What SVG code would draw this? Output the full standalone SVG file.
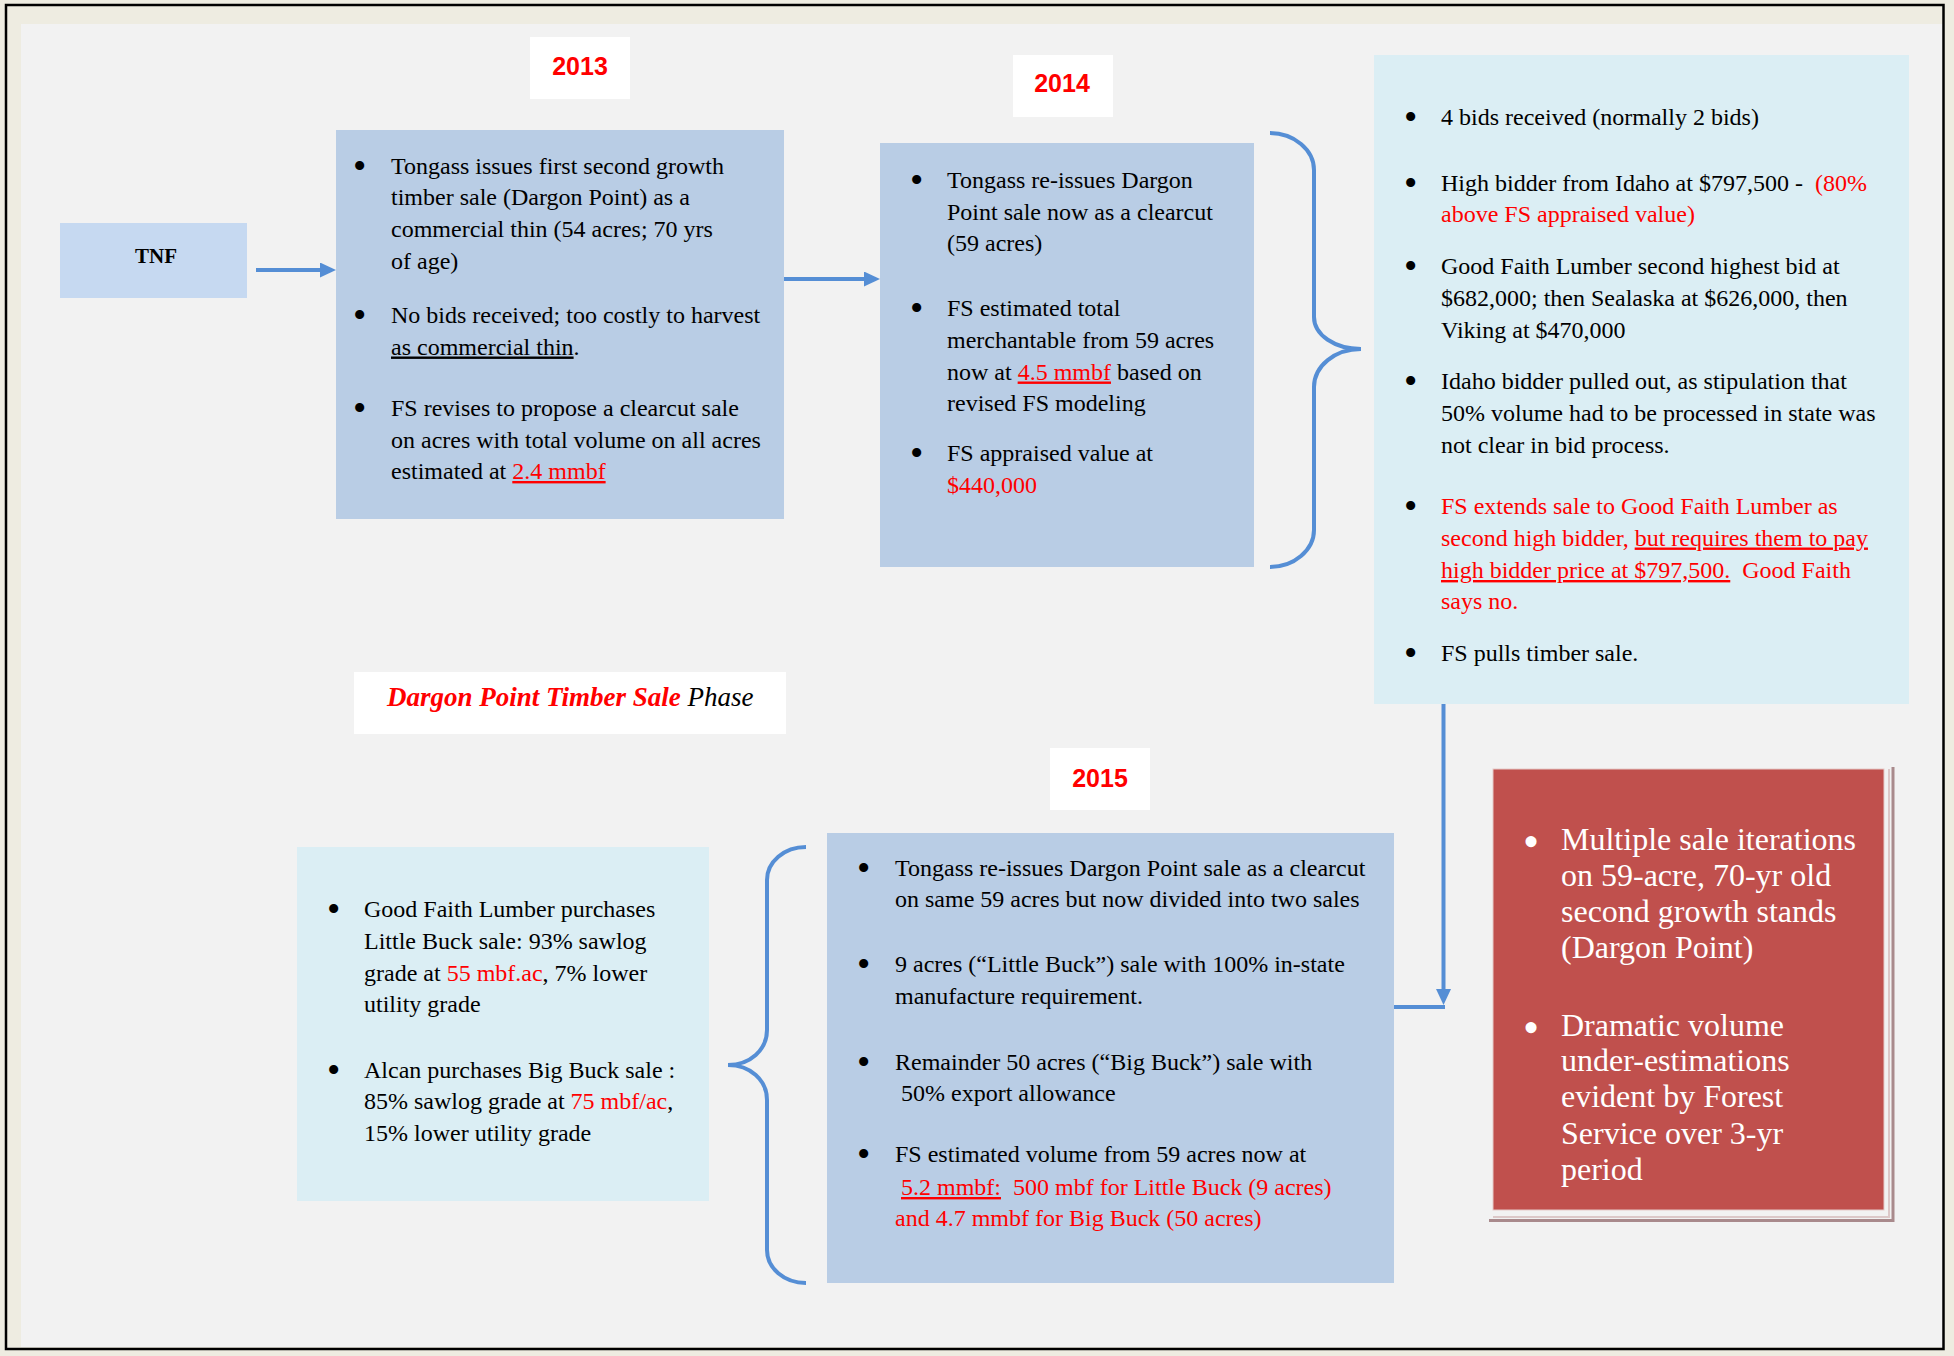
<svg xmlns="http://www.w3.org/2000/svg" width="1954" height="1356" viewBox="0 0 1954 1356">
<defs>
<style>
.t{font-family:"Liberation Serif","Times New Roman",serif;font-size:24px;fill:#000}
.b{font-family:"Liberation Serif","Times New Roman",serif;font-size:38px;fill:#000}
.bw{font-family:"Liberation Serif","Times New Roman",serif;font-size:46px;fill:#FFFFFF}
.r{fill:#FF0000}
.u{text-decoration:underline}
.w{fill:#FFFFFF;font-size:32px}
.yr{font-family:"Liberation Sans",Arial,sans-serif;font-weight:bold;font-size:25px;fill:#FF0000;text-anchor:middle}
.conn{stroke:#558ED5;stroke-width:4;fill:none}
.mid{fill:#B9CDE5}
.lt{fill:#DBEEF4}
</style>
<marker id="ah" markerUnits="userSpaceOnUse" markerWidth="16" markerHeight="16" refX="2" refY="7.5" orient="auto">
<path d="M0,0 L16,7.5 L0,15 Z" fill="#558ED5"/>
</marker>
</defs>
<rect x="0" y="0" width="1954" height="1356" fill="#EEECE1"/>
<rect x="21" y="24" width="1922" height="1323" fill="#F2F2F2"/>
<rect x="6" y="5" width="1937.5" height="1344" fill="none" stroke="#000" stroke-width="2.5"/>

<g id="y2013"><rect x="530" y="37" width="100" height="62" fill="#FFFFFF"/><text class="yr" x="580" y="75">2013</text></g>
<g id="y2014"><rect x="1013" y="55" width="100" height="62" fill="#FFFFFF"/><text class="yr" x="1062" y="92">2014</text></g>
<g id="y2015"><rect x="1050" y="748" width="100" height="62" fill="#FFFFFF"/><text class="yr" x="1100" y="787">2015</text></g>

<g id="tnf"><rect x="60" y="223" width="187" height="75" fill="#C6D9F1"/><text class="t" x="156" y="263" style="font-weight:bold;font-size:21px" text-anchor="middle">TNF</text></g>

<g id="box2013">
<rect class="mid" x="336" y="130" width="448" height="389"/>
<text class="b" x="353" y="179">•</text>
<text class="t" x="391" y="174">Tongass issues first second growth</text>
<text class="t" x="391" y="205">timber sale (Dargon Point) as a</text>
<text class="t" x="391" y="237">commercial thin (54 acres; 70 yrs</text>
<text class="t" x="391" y="268.5">of age)</text>
<text class="b" x="353" y="328">•</text>
<text class="t" x="391" y="323">No bids received; too costly to harvest</text>
<text class="t" x="391" y="354.5"><tspan class="u">as commercial thin</tspan>.</text>
<text class="b" x="353" y="421">•</text>
<text class="t" x="391" y="416">FS revises to propose a clearcut sale</text>
<text class="t" x="391" y="447.5">on acres with total volume on all acres</text>
<text class="t" x="391" y="479">estimated at <tspan class="r u">2.4 mmbf</tspan></text>
</g>

<g id="box2014">
<rect class="mid" x="880" y="143" width="374" height="424"/>
<text class="b" x="910" y="193">•</text>
<text class="t" x="947" y="188">Tongass re-issues Dargon</text>
<text class="t" x="947" y="219.5">Point sale now as a clearcut</text>
<text class="t" x="947" y="251">(59 acres)</text>
<text class="b" x="910" y="321">•</text>
<text class="t" x="947" y="316">FS estimated total</text>
<text class="t" x="947" y="348">merchantable from 59 acres</text>
<text class="t" x="947" y="379.5">now at <tspan class="r u">4.5 mmbf</tspan> based on</text>
<text class="t" x="947" y="411">revised FS modeling</text>
<text class="b" x="910" y="466">•</text>
<text class="t" x="947" y="461">FS appraised value at</text>
<text class="t r" x="947" y="493">$440,000</text>
</g>

<g id="bids">
<rect class="lt" x="1374" y="55" width="535" height="649"/>
<text class="b" x="1404" y="130">•</text>
<text class="t" x="1441" y="125">4 bids received (normally 2 bids)</text>
<text class="b" x="1404" y="195.5">•</text>
<text class="t" x="1441" y="190.5" xml:space="preserve">High bidder from Idaho at $797,500 -  <tspan class="r">(80%</tspan></text>
<text class="t r" x="1441" y="222">above FS appraised value)</text>
<text class="b" x="1404" y="279">•</text>
<text class="t" x="1441" y="274">Good Faith Lumber second highest bid at</text>
<text class="t" x="1441" y="306">$682,000; then Sealaska at $626,000, then</text>
<text class="t" x="1441" y="337.5">Viking at $470,000</text>
<text class="b" x="1404" y="394">•</text>
<text class="t" x="1441" y="389">Idaho bidder pulled out, as stipulation that</text>
<text class="t" x="1441" y="421">50% volume had to be processed in state was</text>
<text class="t" x="1441" y="453">not clear in bid process.</text>
<text class="b" x="1404" y="519">•</text>
<text class="t r" x="1441" y="514">FS extends sale to Good Faith Lumber as</text>
<text class="t r" x="1441" y="545.5">second high bidder, <tspan class="u">but requires them to pay</tspan></text>
<text class="t r" x="1441" y="578" xml:space="preserve"><tspan class="u">high bidder price at $797,500.</tspan>  Good Faith</text>
<text class="t r" x="1441" y="609">says no.</text>
<text class="b" x="1404" y="666">•</text>
<text class="t" x="1441" y="661">FS pulls timber sale.</text>
</g>

<g id="phase">
<rect x="354" y="672" width="432" height="62" fill="#FFFFFF"/>
<text class="t" x="387" y="706" style="font-size:27px;font-style:italic"><tspan class="r" font-weight="bold">Dargon Point Timber Sale</tspan> Phase</text>
</g>

<g id="box2015">
<rect class="mid" x="827" y="833" width="567" height="450"/>
<text class="b" x="857" y="881">•</text>
<text class="t" x="895" y="876">Tongass re-issues Dargon Point sale as a clearcut</text>
<text class="t" x="895" y="907">on same 59 acres but now divided into two sales</text>
<text class="b" x="857" y="977">•</text>
<text class="t" x="895" y="972">9 acres (“Little Buck”) sale with 100% in-state</text>
<text class="t" x="895" y="1004">manufacture requirement.</text>
<text class="b" x="857" y="1075">•</text>
<text class="t" x="895" y="1070">Remainder 50 acres (“Big Buck”) sale with</text>
<text class="t" x="895" y="1101" xml:space="preserve"> 50% export allowance</text>
<text class="b" x="857" y="1167">•</text>
<text class="t" x="895" y="1162">FS estimated volume from 59 acres now at</text>
<text class="t r" x="895" y="1195" xml:space="preserve"> <tspan class="u">5.2 mmbf:</tspan>  500 mbf for Little Buck (9 acres)</text>
<text class="t r" x="895" y="1226">and 4.7 mmbf for Big Buck (50 acres)</text>
</g>

<g id="purchases">
<rect class="lt" x="297" y="847" width="412" height="354"/>
<text class="b" x="327" y="922">•</text>
<text class="t" x="364" y="917">Good Faith Lumber purchases</text>
<text class="t" x="364" y="949">Little Buck sale: 93% sawlog</text>
<text class="t" x="364" y="981">grade at <tspan class="r">55 mbf.ac</tspan>, 7% lower</text>
<text class="t" x="364" y="1012">utility grade</text>
<text class="b" x="327" y="1083">•</text>
<text class="t" x="364" y="1078">Alcan purchases Big Buck sale :</text>
<text class="t" x="364" y="1109">85% sawlog grade at <tspan class="r">75 mbf/ac</tspan>,</text>
<text class="t" x="364" y="1141">15% lower utility grade</text>
</g>

<g id="summary">
<path d="M1893,767 V1220.5 H1489" fill="none" stroke="#A98A8C" stroke-width="3"/>
<path d="M1889,769 V1217 H1493" fill="none" stroke="#DCC8C8" stroke-width="2"/>
<rect x="1493" y="769" width="391" height="441" fill="#C0504D" stroke="#E6C9C8" stroke-width="1"/>
<text class="bw" x="1523" y="857">•</text>
<text class="t w" x="1561" y="850">Multiple sale iterations</text>
<text class="t w" x="1561" y="886">on 59-acre, 70-yr old</text>
<text class="t w" x="1561" y="922">second growth stands</text>
<text class="t w" x="1561" y="958">(Dargon Point)</text>
<text class="bw" x="1523" y="1043">•</text>
<text class="t w" x="1561" y="1036">Dramatic volume</text>
<text class="t w" x="1561" y="1071">under-estimations</text>
<text class="t w" x="1561" y="1107">evident by Forest</text>
<text class="t w" x="1561" y="1144">Service over 3-yr</text>
<text class="t w" x="1561" y="1180">period</text>
</g>

<g id="connectors">
<path class="conn" d="M256,270 H322" marker-end="url(#ah)"/>
<path class="conn" d="M784,279 H866" marker-end="url(#ah)"/>
<path class="conn" d="M1443.5,704 V991" marker-end="url(#ah)"/>
<path class="conn" d="M1445,1007 H1394"/>
<path class="conn" d="M1270,133 C1294,133 1314,150 1314,170 V317 C1314,335 1335,349 1361,349 C1335,349 1314,366 1314,387 V530 C1314,550 1294,567 1270,567"/>
<path class="conn" d="M806,847 C784,847 767,862 767,880 V1030 C767,1050 750,1065 728,1065 C750,1065 767,1080 767,1100 V1250 C767,1268 784,1283 806,1283"/>
</g>
</svg>
